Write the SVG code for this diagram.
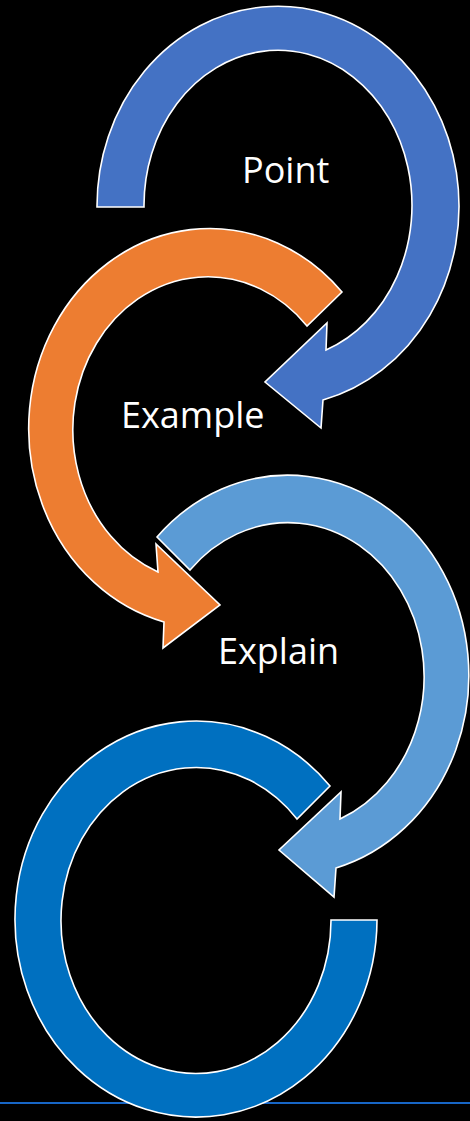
<svg xmlns="http://www.w3.org/2000/svg" width="470" height="1121" viewBox="0 0 470 1121">
  <style>
    .arrow { stroke: #ffffff; stroke-width: 1.6; stroke-linejoin: miter; }
    .label { font-family: "Open Sans", "Liberation Sans", sans-serif; font-size: 36px; fill: #ffffff; }
  </style>
  <rect x="0" y="0" width="470" height="1121" fill="#000000"/>
  <line x1="0" y1="1103" x2="470" y2="1103" stroke="#1766C6" stroke-width="2.2"/>
  <g id="node-4">
    <path class="arrow" fill="#0070C0" d="M 330 786 A 181 198 0 1 0 377 920 L 331 920 A 135 153 0 1 1 297 819 Z"/>
  </g>
  <g id="node-3">
    <path class="arrow" fill="#5B9BD5" d="M 157 537 A 181 200 0 1 1 336 868 L 334 897 L 279 850 L 341 792 L 340 819 A 136 154 0 1 0 190 570 Z"/>
    <text class="label" x="218" y="664">Explain</text>
  </g>
  <g id="node-2">
    <path class="arrow" fill="#ED7D31" d="M 342 292 A 181 200 0 1 0 164 622 L 163 648 L 220 605 L 156 544 L 158 572 A 135 153 0 1 1 307 326 Z"/>
    <text class="label" x="121" y="428">Example</text>
  </g>
  <g id="node-1">
    <path class="arrow" fill="#4472C4" d="M 97 207 A 181 200 0 1 1 323 400 L 321 428 L 265 382 L 327 323 L 326 350 A 134 155 0 1 0 144 207 Z"/>
    <text class="label" x="242" y="183">Point</text>
  </g>
  <g id="connectors"></g>
</svg>
